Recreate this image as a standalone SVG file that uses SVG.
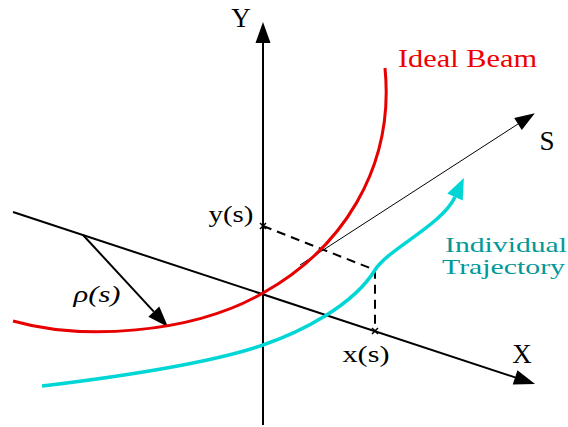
<svg xmlns="http://www.w3.org/2000/svg" width="568" height="427" viewBox="0 0 568 427">
<style>
text{font-family:"Liberation Serif","DejaVu Serif",serif;fill:#000}
.ax{stroke:#000;stroke-width:2;fill:none}
.dash{stroke:#000;stroke-width:2;fill:none;stroke-dasharray:9,6}
.tick{stroke:#000;stroke-width:1.5}
</style>
<defs>
<marker id="ah" markerUnits="userSpaceOnUse" markerWidth="30" markerHeight="30" refX="0" refY="0" orient="auto" overflow="visible">
<path d="M0,-7.5 L21,0 L0,7.5 Z" fill="#000"/>
</marker>
<marker id="ahs" markerUnits="userSpaceOnUse" markerWidth="30" markerHeight="30" refX="0" refY="0" orient="auto" overflow="visible">
<path d="M0,-7 L20,0 L0,7 Z" fill="#000"/>
</marker>
<marker id="ahc" markerUnits="userSpaceOnUse" markerWidth="30" markerHeight="30" refX="0" refY="0" orient="auto" overflow="visible">
<path d="M0,-8.5 L21,0 L0,8.5 Z" fill="#00d6d6"/>
</marker>
</defs>
<g id="connectors">
<line id="y-axis" class="ax" x1="263" y1="425" x2="263" y2="43" marker-end="url(#ah)"/>
<line id="x-axis" class="ax" x1="13" y1="212" x2="515.1" y2="377.4" marker-end="url(#ah)"/>
<line id="s-axis" x1="300" y1="265" x2="518" y2="124" stroke="#000" stroke-width="1" marker-end="url(#ahs)"/>
<line id="rho" class="ax" x1="83" y1="235" x2="153.8" y2="311.6" marker-end="url(#ah)"/>
<polyline class="dash" points="263,226 375,270 375,331"/>
<path class="tick" d="M260,223 L266,229 M266,223 L260,229 M372,328 L378,334 M378,328 L372,334"/>
</g>
<g id="ideal-beam">
<path d="M13,321 C80,340 190,335 263,293 C340,250 395,170 385,68" fill="none" stroke="#e60000" stroke-width="3"/>
<text x="398" y="67" font-size="26" textLength="139" lengthAdjust="spacingAndGlyphs" style="fill:#ee0000">Ideal Beam</text>
</g>
<g id="trajectory">
<path d="M42,386 C150,373 225,358 263,345 C301,332 353,305.7 375,270 C388,249 442,225 455,197" fill="none" stroke="#00d6d6" stroke-width="3.5" marker-end="url(#ahc)"/>
<text x="445" y="252" font-size="21" textLength="122" lengthAdjust="spacingAndGlyphs" style="fill:#009999">Individual</text>
<text x="442" y="274" font-size="21" textLength="123" lengthAdjust="spacingAndGlyphs" style="fill:#009999">Trajectory</text>
</g>
<g id="labels">
<text x="241" y="27" font-size="27" text-anchor="middle">Y</text>
<text x="522" y="363" font-size="27" text-anchor="middle">X</text>
<text x="547" y="150" font-size="27" text-anchor="middle">S</text>
<text x="366" y="362" font-size="24" text-anchor="middle" textLength="47" lengthAdjust="spacingAndGlyphs">x(s)</text>
<text x="231" y="222" font-size="24" text-anchor="middle" textLength="45" lengthAdjust="spacingAndGlyphs">y(s)</text>
<text x="97" y="302" font-size="24" text-anchor="middle" font-style="italic" textLength="47" lengthAdjust="spacingAndGlyphs">ρ(s)</text>
</g>
</svg>
